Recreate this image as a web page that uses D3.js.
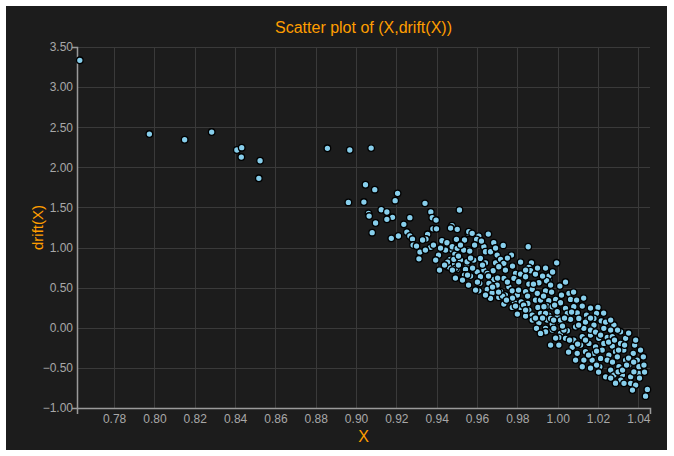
<!DOCTYPE html>
<html>
<head>
<meta charset="utf-8">
<script src="https://cdn.jsdelivr.net/npm/d3@7"></script>
<style>
  html, body { margin: 0; padding: 0; background: #ffffff; }
  svg { display: block; }
  text { font-family: "Liberation Sans", Arial, sans-serif; }
</style>
</head>
<body>
<script>
// Sample of X values and their estimated drift
const xs = [
  0.763, 0.7975, 0.815, 0.8284, 0.8409, 0.8433, 0.8431, 0.8524, 0.8518, 0.8858, 0.8969, 0.9047, 0.8962, 0.9039, 0.9075,
  0.9093, 0.9206, 0.9194, 0.9342, 0.9513, 0.9062, 0.9065, 0.9125, 0.9153, 0.9181, 0.9153, 0.9097, 0.9080, 0.9267, 0.9237,
  0.9252, 0.9210, 0.9175, 0.9267, 0.9280, 0.9283, 0.9371, 0.9378, 0.9397, 0.9381, 0.9399, 0.9355, 0.9347, 0.9370, 0.9317,
  0.9312, 0.9409, 0.9395, 0.9476, 0.9469, 0.9426, 0.9451, 0.9497, 0.9537, 0.9557, 0.9476, 0.9507, 0.9490, 0.9558, 0.9467,
  0.9454, 0.9464, 0.9489, 0.9509, 0.9500, 0.9541, 0.9550, 0.9533, 0.9558,
  0.9502, 0.9559, 0.9576, 0.9609, 0.9656, 0.9498, 0.9538, 0.9598, 0.9683, 0.9730, 0.9854, 0.9477, 0.9502, 0.9534, 0.9564,
  0.9634, 0.9642, 0.9667, 0.9700, 0.9771, 0.9485, 0.9518, 0.9551, 0.9584, 0.9617, 0.9642, 0.9692, 0.9717, 0.9733, 0.9870,
  0.9995, 0.9493, 0.9543, 0.9601, 0.9634, 0.9680, 0.9708, 0.9741, 0.9791, 0.9857, 0.9866, 0.9538, 0.9568, 0.9617, 0.9651,
  0.9683, 0.9733, 0.9783, 0.9816, 0.9841, 0.9890, 0.9956, 0.9614, 0.9659, 0.9700, 0.9758, 0.9807, 0.9857, 0.9907, 0.9948,
  1.0011, 0.9609, 0.9651, 0.9675, 0.9717, 0.9741, 0.9775, 0.9800, 0.9841, 0.9874, 0.9899, 0.9940, 1.0056, 0.9667, 0.9708,
  0.9758, 0.9786, 0.9819, 0.9852, 0.9890, 0.9924, 0.9956, 0.9990, 1.0014, 0.9733, 0.9775, 0.9816, 0.9857, 0.9902, 0.9948,
  0.9998, 1.0039, 0.9800, 0.9841, 0.9874, 0.9915, 0.9956, 0.9998, 1.0048, 0.9874, 0.9907, 0.9948, 0.9973, 1.0014, 1.0056,
  0.9895, 0.9940, 0.9973, 1.0014, 1.0048,
  0.9956, 0.9945, 1.0064, 1.0094, 1.0122, 0.9932, 0.9973, 1.0080, 1.0200, 0.9940, 0.9998, 1.0097, 1.0143, 1.0193, 0.9965,
  1.0014, 1.0064, 1.0105, 1.0147, 1.0180, 1.0216, 1.0279, 0.9940, 0.9981, 1.0031, 1.0089, 1.0130, 1.0180, 1.0229, 1.0263,
  1.0312, 1.0006, 1.0039, 1.0080, 1.0122, 1.0163, 1.0204, 1.0246, 1.0271, 1.0337, 1.0072, 1.0114, 1.0155, 1.0188, 1.0229,
  1.0271, 1.0312, 1.0097, 1.0138, 1.0180, 1.0221, 1.0254, 1.0287, 1.0328, 1.0375, 1.0130, 1.0171, 1.0213, 1.0246, 1.0296,
  1.0337, 1.0395, 1.0425, 1.0122, 1.0209, 1.0263, 1.0304, 1.0353, 1.0403, 1.0428, 1.0238, 1.0279, 1.0321, 1.0362,
  1.0403, 1.0378, 1.0362, 1.0387, 1.0371, 1.0445, 1.0436, 1.0313, 1.0329, 1.0300, 1.0006,
  0.9454, 0.9478, 0.9508, 0.9528, 0.9558, 0.9578, 0.9593, 0.9627, 0.9657, 0.9508, 0.9568, 0.9677, 0.9702, 0.9727, 0.9751,
  0.9776, 0.9806, 0.9831, 0.9851, 0.9880, 0.9915, 0.9930, 0.9970, 0.9985, 1.0019, 1.0034, 1.0069, 1.0104, 1.0138, 1.0163,
  1.0188, 1.0213, 1.0238, 1.0253, 1.0282, 1.0302, 1.0332, 1.0352, 1.0382, 1.0406, 1.0322, 1.0272, 1.0193, 1.0153, 1.0099,
  1.0059, 1.0024, 0.9980, 0.9925, 0.9890, 0.9841, 0.9791, 0.9746, 0.9707, 0.9642, 0.9602, 0.9553, 0.9493, 0.9444, 0.9419,
  0.9384, 0.9344, 0.9330, 0.9300, 0.9439, 0.9414, 0.9518, 0.9588, 0.9622, 0.9692, 0.9751, 0.9776, 0.9816, 0.9841, 0.9900,
  0.9925, 0.9975, 0.9965, 0.9940, 1.0039, 1.0079, 1.0129, 1.0163, 1.0163, 1.0228, 1.0263, 1.0297, 1.0352, 1.0387, 1.0411,
  1.0342, 1.0377, 1.0431, 1.0287, 1.0263, 1.0203, 1.0163, 1.0089, 1.0054, 1.0138, 1.0193, 0.9990, 0.9965, 0.9915
];
const drift = [
  3.334, 2.415, 2.344, 2.440, 2.216, 2.245, 2.128, 2.082, 1.863, 2.237, 2.216, 1.783, 1.563, 1.567, 2.240,
  1.721, 1.676, 1.584, 1.551, 1.468, 1.426, 1.393, 1.471, 1.443, 1.377, 1.352, 1.306, 1.185, 1.372, 1.289,
  1.193, 1.144, 1.115, 1.144, 1.106, 1.031, 1.443, 1.372, 1.343, 1.234, 1.234, 1.165, 1.106, 1.003, 0.944,
  0.860, 0.906, 0.844, 1.272, 1.243, 1.085, 1.060, 1.094, 1.094, 1.177, 0.969, 0.994, 0.919, 0.969, 0.853,
  0.761, 0.753, 0.794, 0.844, 0.728, 0.728, 0.794, 0.645, 0.657,
  1.227, 1.197, 1.177, 1.143, 1.168, 1.102, 1.094, 1.102, 1.060, 1.027, 1.010, 1.010, 0.990, 0.969, 0.956,
  1.010, 0.948, 0.948, 0.906, 0.906, 0.853, 0.844, 0.823, 0.844, 0.865, 0.810, 0.810, 0.853, 0.803, 0.810,
  0.810, 0.741, 0.728, 0.698, 0.719, 0.711, 0.761, 0.719, 0.678, 0.753, 0.711, 0.657, 0.645, 0.636, 0.678,
  0.603, 0.616, 0.616, 0.670, 0.636, 0.670, 0.603, 0.554, 0.554, 0.532, 0.511, 0.574, 0.545, 0.561, 0.586,
  0.520, 0.461, 0.479, 0.436, 0.449, 0.408, 0.461, 0.408, 0.449, 0.479, 0.429, 0.461, 0.429, 0.367, 0.379,
  0.354, 0.312, 0.324, 0.304, 0.345, 0.367, 0.337, 0.354, 0.312, 0.296, 0.254, 0.254, 0.221, 0.254, 0.271,
  0.221, 0.242, 0.171, 0.146, 0.158, 0.180, 0.158, 0.137, 0.180, 0.096, 0.062, 0.096, 0.046, 0.075, 0.105,
  -0.007, -0.007, -0.029, -0.070, -0.037,
  0.645, 0.586, 0.354, 0.345, 0.271, 0.262, 0.262, 0.262, 0.254, 0.180, 0.200, 0.187, 0.158, 0.180, 0.117,
  0.096, 0.105, 0.117, 0.096, 0.117, 0.087, 0.034, -0.050, -0.007, -0.029, 0.012, -0.007, 0.034, -0.007, -0.029,
  -0.050, -0.120, -0.132, -0.153, -0.112, -0.091, -0.132, -0.120, -0.112, -0.132, -0.244, -0.216, -0.195, -0.237, -0.195,
  -0.228, -0.195, -0.319, -0.299, -0.319, -0.278, -0.340, -0.299, -0.278, -0.319, -0.403, -0.403, -0.382, -0.403, -0.362,
  -0.403, -0.403, -0.362, -0.486, -0.486, -0.527, -0.486, -0.465, -0.486, -0.465, -0.611, -0.590, -0.590, -0.611,
  -0.569, -0.549, -0.693, -0.714, -0.777, -0.768, -0.852, -0.652, -0.693, -0.549, -0.216,
  0.819, 0.719, 0.782, 0.595, 0.532, 0.744, 0.470, 0.782, 0.645, 0.894, 0.869, 0.507, 0.620, 0.395, 0.570,
  0.370, 0.470, 0.283, 0.395, 0.545, 0.345, 0.395, 0.445, 0.283, 0.408, 0.121, 0.196, 0.034, 0.071, -0.029,
  -0.054, -0.091, 0.071, -0.178, -0.153, -0.278, -0.216, -0.378, -0.216, -0.627, -0.527, -0.428, -0.465, -0.340, -0.203,
  -0.153, 0.021, 0.096, 0.121, 0.121, 0.221, 0.271, 0.345, 0.445, 0.408, 0.570, 0.657, 0.620, 0.969, 0.994,
  1.031, 0.969, 1.094, 1.019, 0.782, 0.719, 1.031, 1.031, 1.081, 0.994, 0.869, 0.769, 0.819, 0.719, 0.744,
  0.645, 0.695, 0.532, 0.744, 0.570, 0.445, 0.370, 0.246, 0.121, 0.183, 0.096, -0.029, -0.066, -0.153, -0.278,
  -0.465, -0.428, -0.552, -0.690, -0.627, -0.552, -0.502, -0.403, -0.303, -0.153, -0.291, -0.128, -0.216, -0.070
];
const xTicks = [0.78, 0.80, 0.82, 0.84, 0.86, 0.88, 0.90, 0.92, 0.94, 0.96, 0.98, 1.00, 1.02, 1.04];
const yTicks = [-1.0, -0.5, 0.0, 0.5, 1.0, 1.5, 2.0, 2.5, 3.0, 3.5];
const xDomain = [0.7616, 1.0458];
const yDomain = [-1.0, 3.5];

const W = 674, H = 456;
const margin = { left: 77, right: 24, top: 47, bottom: 48 };
const orange = "#ff9e00";

const svg = d3.select("body").append("svg").attr("width", W).attr("height", H);

// dark panel inside a thin light frame
svg.append("rect").attr("x", 6).attr("y", 6).attr("width", 661).attr("height", 444).attr("fill", "#1c1c1c");

const x = d3.scaleLinear().domain(xDomain).range([margin.left, W - margin.right]);
const y = d3.scaleLinear().domain(yDomain).range([H - margin.bottom, margin.top]);

// grid
const grid = svg.append("g").attr("stroke", "#3a3a3a").attr("stroke-width", 1);
grid.selectAll(".vx").data(xTicks).join("line")
  .attr("x1", d => Math.round(x(d)) + 0.5).attr("x2", d => Math.round(x(d)) + 0.5)
  .attr("y1", y.range()[1]).attr("y2", y.range()[0]);
grid.selectAll(".hy").data(yTicks).join("line")
  .attr("y1", d => Math.round(y(d)) + 0.5).attr("y2", d => Math.round(y(d)) + 0.5)
  .attr("x1", x.range()[0]).attr("x2", x.range()[1]);

// axes
const xAxis = d3.axisBottom(x).tickValues(xTicks).tickFormat(d3.format(".2f"))
  .tickSizeInner(0).tickSizeOuter(6).tickPadding(6);
const yAxis = d3.axisLeft(y).tickValues(yTicks).tickFormat(d3.format(".2f"))
  .tickSizeInner(0).tickSizeOuter(5).tickPadding(4);

const gx = svg.append("g").attr("transform", `translate(0,${y.range()[0]})`).call(xAxis);
const gy = svg.append("g").attr("transform", `translate(${x.range()[0]},0)`).call(yAxis);
[gx, gy].forEach(g => {
  g.select(".domain").attr("stroke", "#9a9a9a").attr("stroke-width", 1.5);
  g.selectAll("text").attr("fill", "#a8a8a8").style("font-size", "12px")
    .style("font-family", "'Liberation Sans', Arial, sans-serif");
});

// points
const pts = xs.map((v, i) => ({ x: v, y: drift[i] }));
svg.append("g").selectAll("circle").data(pts).join("circle")
  .attr("cx", d => x(d.x)).attr("cy", d => y(d.y)).attr("r", 3.3)
  .attr("fill", "#87ceeb").attr("stroke", "#000").attr("stroke-width", 1.3);

// titles
svg.append("text").attr("x", (x.range()[0] + x.range()[1]) / 2).attr("y", 33)
  .attr("text-anchor", "middle").attr("fill", orange).style("font-size", "16px")
  .text("Scatter plot of (X,drift(X))");
svg.append("text").attr("x", (x.range()[0] + x.range()[1]) / 2).attr("y", 442)
  .attr("text-anchor", "middle").attr("fill", orange).style("font-size", "16px")
  .text("X");
svg.append("text").attr("transform", `translate(43,${(y.range()[0] + y.range()[1]) / 2}) rotate(-90)`)
  .attr("text-anchor", "middle").attr("fill", orange).style("font-size", "15px")
  .text("drift(X)");
</script>
</body>
</html>
